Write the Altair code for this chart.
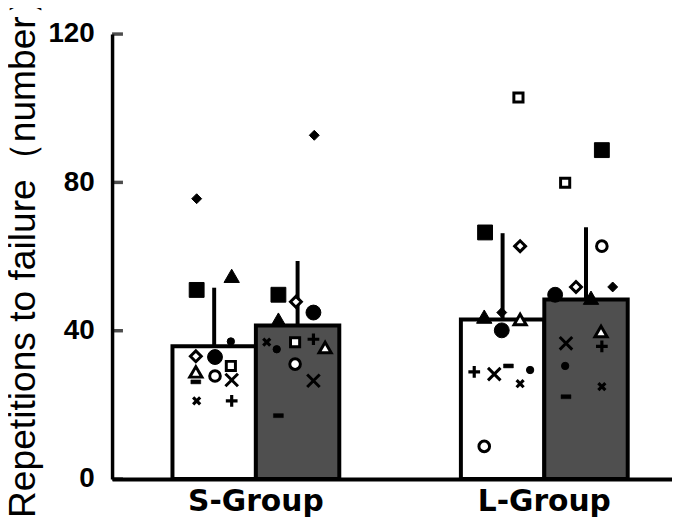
import altair as alt
import pandas as pd

# ---------------- data ----------------
groups = ["S-Group", "L-Group"]
conditions = ["Pre", "Post"]

# bar heights (mean) and upper error (SD), order: S-Pre, S-Post, L-Pre, L-Post
bar_group = ["S-Group", "S-Group", "L-Group", "L-Group"]
bar_cond = ["Pre", "Post", "Pre", "Post"]
bar_means = [35.8, 41.4, 43.0, 48.4]
bar_sds = [15.8, 17.4, 23.3, 19.5]

# individual subjects, one marker each
markers = ["diamond_f", "square_f", "triangle_f", "dot_s", "diamond_o", "circle_f",
           "triangle_o", "circle_o", "square_o", "x_thin", "dash", "x_bold", "plus"]

s_pre = [75.6, 51.0, 54.8, 37.1, 33.1, 32.9, 28.9, 27.8, 30.5, 26.7, 26.2, 21.1, 21.1]
s_post = [92.7, 49.7, 43.0, 35.0, 47.8, 44.9, 35.5, 31.0, 36.9, 26.5, 17.1, 36.9, 37.7]
l_pre = [44.9, 66.5, 43.8, 29.4, 62.8, 40.1, 43.0, 8.8, 102.9, 28.3, 30.5, 25.7, 28.9]
l_post = [51.8, 88.7, 48.9, 30.5, 51.8, 49.7, 39.8, 62.8, 79.9, 36.6, 22.2, 24.9, 35.8]

# horizontal scatter of each marker inside its group (-1 .. 1 across the pair of bars)
s_pre_jit = [-0.71, -0.71, -0.29, -0.30, -0.72, -0.49, -0.72, -0.49, -0.30, -0.29, -0.72, -0.71, -0.29]
s_post_jit = [0.70, 0.27, 0.27, 0.25, 0.48, 0.69, 0.83, 0.47, 0.47, 0.69, 0.27, 0.13, 0.69]
l_pre_jit = [-0.51, -0.71, -0.72, -0.17, -0.29, -0.51, -0.29, -0.72, -0.31, -0.60, -0.43, -0.29, -0.84]
l_post_jit = [0.82, 0.69, 0.56, 0.25, 0.38, 0.13, 0.68, 0.69, 0.25, 0.26, 0.26, 0.69, 0.69]

y_ticks = [0, 40, 80, 120]

# ---------------- tables ----------------
bars = pd.DataFrame({"group": bar_group, "cond": bar_cond,
                     "mean": bar_means, "sd": bar_sds})

rows = []
for g, c, vals, jits in [("S-Group", "Pre", s_pre, s_pre_jit),
                         ("S-Group", "Post", s_post, s_post_jit),
                         ("L-Group", "Pre", l_pre, l_pre_jit),
                         ("L-Group", "Post", l_post, l_post_jit)]:
    for m, v, j in zip(markers, vals, jits):
        rows.append({"group": g, "cond": c, "marker": m, "value": v, "jitter": j})
pts = pd.DataFrame(rows)
ticks = pd.DataFrame({"tick": y_ticks})

# ---------------- styles ----------------
XPATH = "M-1,-1L1,1M-1,1L1,-1"
PLUS = "M-1,0L1,0M0,-1L0,1"
DASH = "M-1,-0.4L1,-0.4L1,0.4L-1,0.4Z"
shape_range = ["diamond", "square", "triangle-up", "circle", "diamond", "circle",
               "triangle-up", "circle", "square", XPATH, DASH, XPATH, PLUS]
fill_range = ["black", "black", "black", "black", "white", "black",
              "white", "white", "white", "black", "black", "black", "black"]
size_range = [100, 225, 240, 55, 120, 225, 150, 115, 85, 160, 100, 50, 140]
sw_range = [1, 1, 1, 1, 3, 1, 3, 3, 3, 3, 0.5, 3.2, 3.2]

x_scale = alt.Scale(domain=groups, paddingInner=0.4216, paddingOuter=0.1815, align=0.577)
y_scale = alt.Scale(domain=[0, 120], nice=False)

x_enc = alt.X("group:N", sort=groups, scale=x_scale,
              axis=alt.Axis(title=None, labelAngle=0, labelFont="DejaVu Sans",
                            labelFontSize=30, labelFontWeight="bold", labelColor="black",
                            ticks=False, domainColor="black", domainWidth=4,
                            labelPadding=8))
y_axis = alt.Axis(values=y_ticks, title="Repetitions to failure（number）",
                  titleFont="Liberation Sans", titleFontSize=37.5, titleFontWeight="normal",
                  titleColor="black", titleX=-78, titleY=216, titleAngle=270,
                  titleBaseline="alphabetic", titleAlign="center",
                  labelFont="Liberation Sans", labelFontSize=28, labelFontWeight="bold",
                  labelColor="black", labelPadding=18, ticks=False, grid=False,
                  domainColor="black", domainWidth=3.5)

err = alt.Chart(bars).transform_calculate(top="datum.mean + datum.sd").mark_rule(
    color="black", strokeWidth=4).encode(
    x=x_enc,
    xOffset=alt.XOffset("cond:N", sort=conditions, scale=alt.Scale(domain=conditions)),
    y=alt.Y("mean:Q", scale=y_scale, axis=y_axis),
    y2="top:Q",
)

bar = alt.Chart(bars).mark_bar(stroke="black", strokeWidth=4).encode(
    x=x_enc,
    xOffset=alt.XOffset("cond:N", sort=conditions, scale=alt.Scale(domain=conditions)),
    y=alt.Y("mean:Q", scale=y_scale, axis=y_axis),
    fill=alt.Fill("cond:N", scale=alt.Scale(domain=conditions, range=["white", "#4f4f4f"]),
                  legend=None),
)

points = alt.Chart(pts).mark_point(opacity=1, fillOpacity=1, strokeOpacity=1).encode(
    x=x_enc,
    xOffset=alt.XOffset("jitter:Q", scale=alt.Scale(domain=[-1, 1], nice=False, zero=False)),
    y=alt.Y("value:Q", scale=y_scale, axis=y_axis),
    shape=alt.Shape("marker:N", scale=alt.Scale(domain=markers, range=shape_range), legend=None),
    fill=alt.Fill("marker:N", scale=alt.Scale(domain=markers, range=fill_range), legend=None),
    size=alt.Size("marker:O", scale=alt.Scale(type="ordinal", domain=markers, range=size_range),
                  legend=None),
    strokeWidth=alt.StrokeWidth("marker:O", scale=alt.Scale(type="ordinal", domain=markers,
                                                             range=sw_range), legend=None),
    stroke=alt.value("black"),
)

yticks = alt.Chart(ticks).mark_tick(color="black", thickness=3.5, size=11,
                                    orient="horizontal").encode(
    y=alt.Y("tick:Q", scale=y_scale, axis=y_axis),
    x=alt.value(5.5),
)

chart = alt.layer(err, bar, points, yticks).resolve_scale(
    xOffset="independent", fill="independent"
).properties(
    width=565, height=449,
    autosize=alt.AutoSizeParams(type="none"),
    padding={"left": 105, "top": 24, "right": 0, "bottom": 36},
).configure(background="white", view=alt.ViewConfig(stroke=None))

chart.save("out.html", embed_options={"renderer": "svg", "actions": False})
